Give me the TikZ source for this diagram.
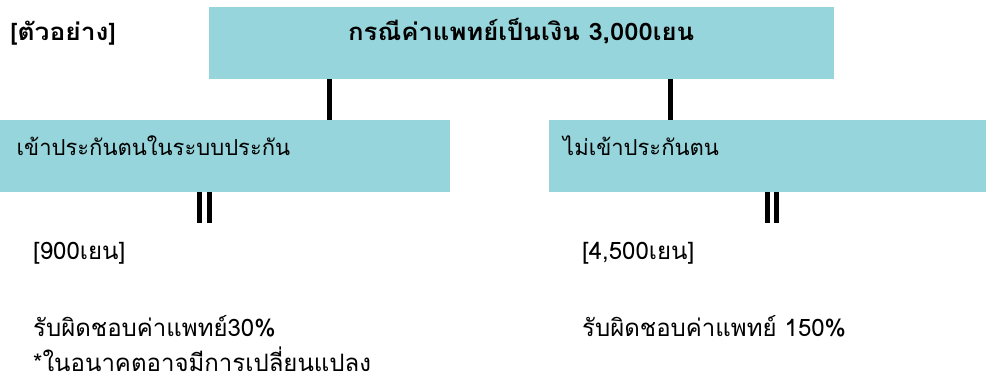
\documentclass[tikz,border=0pt]{standalone}
\usepackage{fontspec}
\setmainfont[Script=Thai]{Loma}
\newfontfamily\boldwide[Script=Thai,FakeStretch=1.1]{Loma Bold}
\newfontfamily\boldtitle[Script=Thai,FakeStretch=1.07]{Loma Bold}
\definecolor{boxfill}{RGB}{150,213,219}
\tikzset{
  box/.style={fill=boxfill, draw=none, anchor=north west, inner sep=0pt},
  txt/.style={anchor=base west, inner sep=0pt, font=\fontsize{24}{26}\selectfont},
  boxtxt/.style={anchor=base west, inner sep=0pt, font=\fontsize{22}{24}\selectfont},
  btxt/.style={anchor=base west, inner sep=0pt, font=\boldwide\fontsize{24}{26}\selectfont},
  ttxt/.style={anchor=base west, inner sep=0pt, font=\boldtitle\fontsize{24}{26}\selectfont},
  link/.style={line width=4.5pt},
  bar/.style={line width=4.5pt}
}
\begin{document}
\begin{tikzpicture}[x=1pt,y=-1pt]
\useasboundingbox (0,0) rectangle (986,380);
\node[box, minimum width=625pt, minimum height=72pt] (top) at (209,7) {};
\node[box, minimum width=450pt, minimum height=72pt] (left) at (0,120) {};
\node[box, minimum width=437pt, minimum height=72pt] (right) at (549,120) {};

\node[btxt] (ex) at (10,40.5) {[ตัวอย่าง]};
\node[ttxt] (title) at (348,40.5) {กรณีค่าแพทย์เป็นเงิน 3,000เยน};
\node[boxtxt] (ltitle) at (16.5,155) {เข้าประกันตนในระบบประกัน};
\node[boxtxt] (rtitle) at (563,155) {ไม่เข้าประกันตน};

\node[txt] (lamt) at (33,259.5) {[900เยน]};
\node[txt] (ramt) at (582,259) {[4,500เยน]};
\node[txt] (lresp) at (33,336.5) {รับผิดชอบค่าแพทย์30\%};
\node[txt] (lnote) at (33,371) {*ในอนาคตอาจมีการเปลี่ยนแปลง};
\node[txt] (rresp) at (582,336.5) {รับผิดชอบค่าแพทย์ 150\%};

\draw[link] (top.south -| 329.5,0) -- (left.north -| 329.5,0);
\draw[link] (top.south -| 670.5,0) -- (right.north -| 670.5,0);

\coordinate (lbarend) at (204.5,223);
\coordinate (rbarend) at (772,223);
\draw[bar] (left.south -| 199.5,0) -- (lbarend -| 199.5,0);
\draw[bar] (left.south -| 209.5,0) -- (lbarend -| 209.5,0);
\draw[bar] (right.south -| 767.5,0) -- (rbarend -| 767.5,0);
\draw[bar] (right.south -| 776.5,0) -- (rbarend -| 776.5,0);
\end{tikzpicture}
\end{document}
